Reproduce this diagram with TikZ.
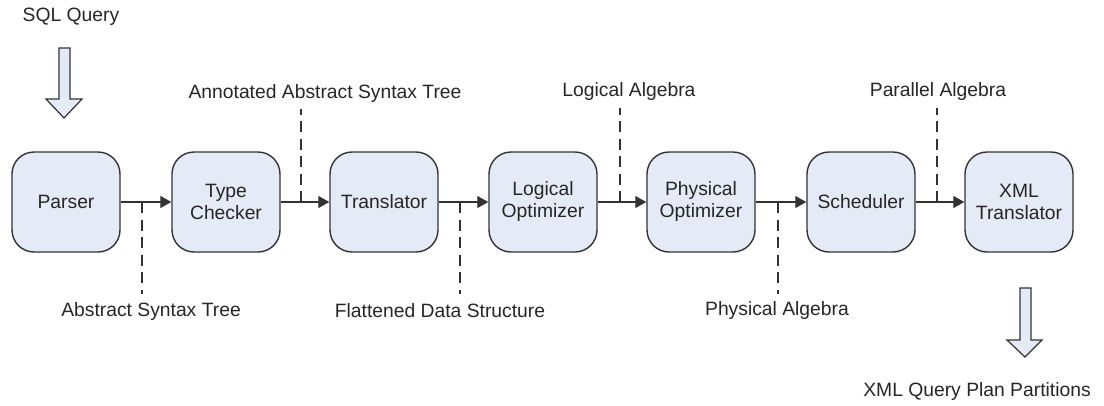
\documentclass[tikz,border=0pt]{standalone}
\usepackage{fontspec}
\setmainfont{Liberation Sans}
\usetikzlibrary{arrows.meta}
\definecolor{boxfill}{HTML}{E4EBF6}
\definecolor{boxline}{HTML}{333333}
\definecolor{ink}{HTML}{262626}
\begin{document}
\begin{tikzpicture}[x=1pt,y=-1pt,
  stage/.style={draw=boxline, line width=1.4pt, fill=boxfill, rounded corners=22pt,
    minimum width=108pt, minimum height=100pt, align=center, text=ink,
    font=\fontsize{19.3}{22}\selectfont, inner sep=0pt},
  flow/.style={draw=boxline, line width=1.2pt, -{Triangle[length=11pt,width=12pt]}},
  tap/.style={draw=boxline, line width=1.1pt, dash pattern=on 11pt off 6.5pt},
  lbl/.style={text=ink, font=\fontsize{19.3}{22}\selectfont, inner sep=0pt},
  bigarrow/.style={draw=boxline, line width=1.2pt, fill=boxfill, line join=miter}
]
\useasboundingbox (0,0) rectangle (1104,405);

% pipeline stages
\node[stage] (parser) at (66,202) {Parser};
\node[stage] (check)  at (226,202) {Type\\Checker};
\node[stage] (trans)  at (384,202) {Translator};
\node[stage] (logopt) at (543,202) {Logical\\Optimizer};
\node[stage] (phyopt) at (701,202) {Physical\\Optimizer};
\node[stage] (sched)  at (861,202) {Scheduler};
\node[stage] (xmlt)   at (1019,202) {XML\\Translator};

% connectors between stages
\draw[flow] (parser.east) -- (check.west);
\draw[flow] (check.east) -- (trans.west);
\draw[flow] (trans.east) -- (logopt.west);
\draw[flow] (logopt.east) -- (phyopt.west);
\draw[flow] (phyopt.east) -- (sched.west);
\draw[flow] (sched.east) -- (xmlt.west);

% intermediate representations
\coordinate (t1) at (142,202);
\coordinate (t2) at (301,202);
\coordinate (t3) at (460,202);
\coordinate (t4) at (620,202);
\coordinate (t5) at (778,202);
\coordinate (t6) at (937,202);

\node[lbl] (ast)  at (151,312) {Abstract Syntax Tree};
\node[lbl] (aast) at (325,94) {Annotated Abstract Syntax Tree};
\node[lbl] (fds)  at (440,311) {Flattened Data Structure};
\node[lbl] (la)   at (629,92) {Logical Algebra};
\node[lbl] (pa)   at (777,311) {Physical Algebra};
\node[lbl] (para) at (938,92) {Parallel Algebra};

\draw[tap] (t1) -- (t1 |- 0,294);
\draw[tap] (t2) -- (t2 |- 0,109);
\draw[tap] (t3) -- (t3 |- 0,294);
\draw[tap] (t4) -- (t4 |- 0,108);
\draw[tap] (t5) -- (t5 |- 0,294);
\draw[tap] (t6) -- (t6 |- 0,108);

% input and output
\node[lbl] (sql) at (71,17) {SQL Query};
\draw[bigarrow] (59,48) -- (70,48) -- (70,99) -- (82,99) -- (64,118) -- (46,99) -- (59,99) -- cycle;

\draw[bigarrow] (1020,288) -- (1031,288) -- (1031,340) -- (1042,340) -- (1025,357) -- (1007,340) -- (1020,340) -- cycle;
\node[lbl] (xqp) at (977,392) {XML Query Plan Partitions};
\end{tikzpicture}
\end{document}
